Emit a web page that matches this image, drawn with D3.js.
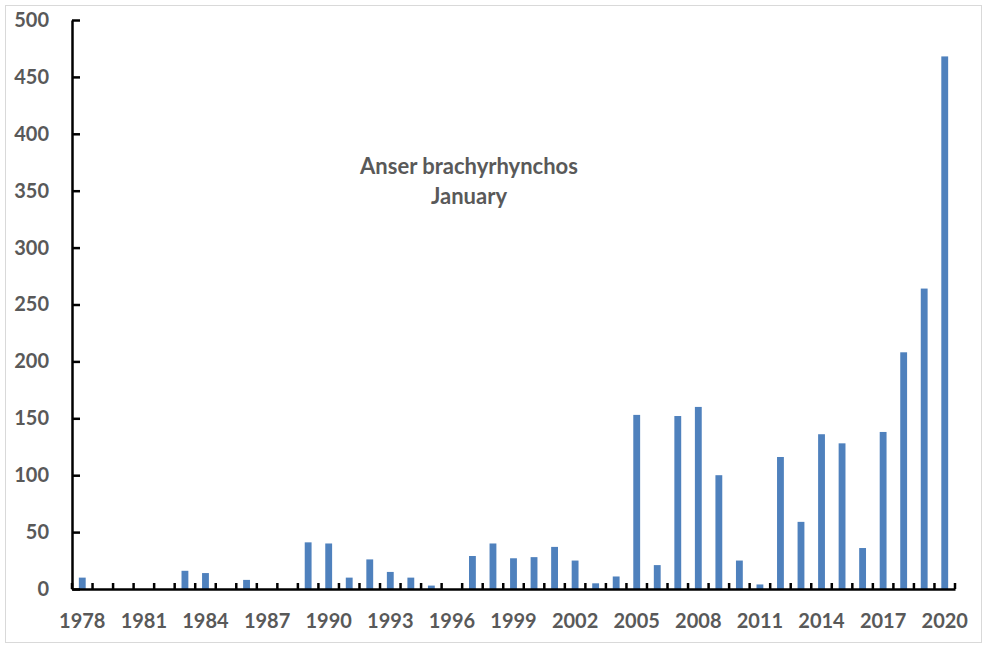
<!DOCTYPE html>
<html>
<head>
<meta charset="utf-8">
<script src="https://cdn.jsdelivr.net/npm/d3@7"></script>
<style>
  body { margin: 0; background: #fff; }
  svg { display: block; font-family: Lato, "Open Sans", sans-serif; }
  svg text { font-family: Lato, "Open Sans", sans-serif; }
</style>
</head>
<body>
<svg id="chart" width="987" height="648"></svg>
<script>
const years = d3.range(1978, 2021);
const counts = [
  10, 0, 0, 0, 0, 16, 14, 0, 8, 0,
  0, 41, 40, 10, 26, 15, 10, 3, 0, 29,
  40, 27, 28, 37, 25, 5, 11, 153, 21, 152,
  160, 100, 25, 4, 116, 59, 136, 128, 36, 138,
  208, 264, 468
];
const yTicks = [0, 50, 100, 150, 200, 250, 300, 350, 400, 450, 500];
const xTickLabels = years.filter((d, i) => i % 3 === 0);
const titleLines = ["Anser brachyrhynchos", "January"];

(function () {
const textColor = "#595959";
const barColor = "#4F81BD";
const fontFam = "Lato, 'Open Sans', sans-serif";

const svg = d3.select("#chart");
const mLeft = 72, mRight = 955, mTop = 20, mBottom = 589;

svg.append("rect")
  .attr("x", 5.5).attr("y", 5.5)
  .attr("width", 976).attr("height", 637)
  .attr("fill", "#fff").attr("stroke", "#d9d9d9").attr("stroke-width", 1);

const x = d3.scaleBand()
  .domain(years)
  .range([mLeft, mRight])
  .paddingInner(2 / 3)
  .paddingOuter(1 / 3);

const y = d3.scaleLinear().domain([0, 500]).range([mBottom, mTop]);

// bars
svg.append("g")
  .selectAll("rect")
  .data(years.map((yr, i) => ({ yr, v: counts[i] })))
  .join("rect")
  .attr("x", d => x(d.yr))
  .attr("width", x.bandwidth())
  .attr("y", d => y(d.v))
  .attr("height", d => y(0) - y(d.v))
  .attr("fill", barColor);

// y axis
const yAxis = svg.append("g")
  .attr("transform", `translate(${mLeft},0)`)
  .call(d3.axisLeft(y).tickValues(yTicks).tickSizeInner(-8).tickSizeOuter(0).tickPadding(23));
yAxis.attr("font-family", fontFam).attr("font-size", 20);
yAxis.select(".domain").attr("stroke", "#000").attr("stroke-width", 2.5);
yAxis.selectAll(".tick line").attr("stroke", "#000").attr("stroke-width", 2.5);
yAxis.selectAll("text")
  .attr("fill", textColor)
  .style("font-weight", "bold");

// x axis boundary ticks (between categories)
const step = x.step();
const boundaries = years.map(yr => x(yr) - step / 3)
  .concat([x(years[years.length - 1]) + x.bandwidth() + step / 3]);
svg.append("g")
  .selectAll("line")
  .data(boundaries)
  .join("line")
  .attr("x1", d => d).attr("x2", d => d)
  .attr("y1", mBottom).attr("y2", mBottom - 6)
  .attr("stroke", "#000").attr("stroke-width", 2.5);

// x axis
const xAxis = svg.append("g")
  .attr("transform", `translate(0,${mBottom})`)
  .call(d3.axisBottom(x).tickValues(xTickLabels).tickSize(0).tickSizeOuter(0).tickPadding(25));
xAxis.attr("font-family", fontFam).attr("font-size", 20);
xAxis.select(".domain").attr("stroke", "#000").attr("stroke-width", 2.5);
xAxis.selectAll("text")
  .attr("fill", textColor)
  .style("font-weight", "bold");

// title annotation
svg.append("g")
  .selectAll("text")
  .data(titleLines)
  .join("text")
  .attr("x", 469)
  .attr("y", (d, i) => 174 + i * 30)
  .attr("text-anchor", "middle")
  .attr("fill", textColor)
  .attr("font-family", fontFam)
  .style("font-size", "22px")
  .style("font-weight", "bold")
  .text(d => d);
})();
</script>
</body>
</html>
